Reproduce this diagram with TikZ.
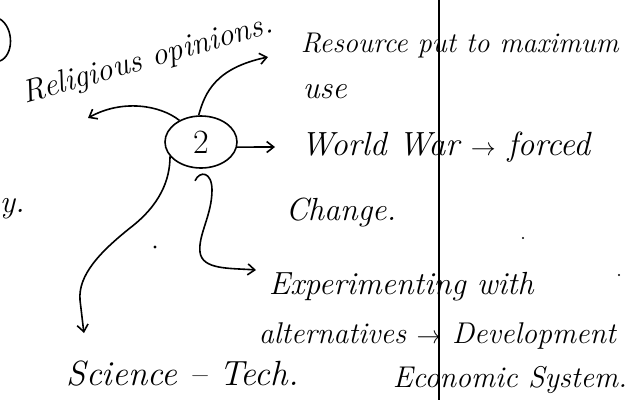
\documentclass[tikz,border=0pt]{standalone}
\usepackage{tikz}
\usetikzlibrary{arrows.meta,shapes.geometric}

\begin{document}
\begin{tikzpicture}[x=1pt,y=-1pt,line width=1.6pt,
 hand/.style={font=\fontsize{#1}{34}\selectfont\itshape,inner sep=0pt,anchor=base west},
 hand/.default=32,
 bubble/.style={draw,ellipse,minimum width=72pt,minimum height=52pt,inner sep=0pt,
 font=\fontsize{34}{36}\selectfont},
 arr/.style={-{Straight Barb[length=7pt,width=11pt]}}]
\useasboundingbox (0,0) rectangle (628,400);
% margin line of the page
\draw[line width=1.3pt] (439,0) -- (439,400);
% bit of a circled number cut off at the left edge
\draw (0,19) .. controls (14,28) and (14,55) .. (0,61);
\node[hand] (yend) at (-1,212) {y.};

\node[bubble] (two) at (201,142) {2};

\node[hand,anchor=base,rotate=16] (relig) at (150,68) {Religious opinions.};
\node[hand=28.5] (res) at (300,52) {Resource put to maximum};
\node[hand] (use) at (302,98) {use};
\node[hand=33.5] (war) at (300,155) {World War $\rightarrow$ forced};
\node[hand] (chg) at (285,220) {Change.};
\node[hand] (expt) at (268,294) {Experimenting with};
\node[hand=30] (alt) at (258,343) {alternatives $\rightarrow$ Development};
\node[hand=30] (eco) at (392,387) {Economic System.};
\node[hand=35] (sci) at (66,385) {Science -- Tech.};

% arrow tips
\coordinate (relig-tip) at (88,118);
\coordinate (res-tip) at (268,57);
\coordinate (war-tip) at (275,147);
\coordinate (expt-tip) at (256,270);
\coordinate (sci-tip) at (84,333);

\draw[arr] (two.135) .. controls (160,105) and (122,99) .. (relig-tip);
\draw[arr] (two.95) .. controls (205,92) and (216,68) .. (res-tip);
\draw[arr] (two.-8) -- (war-tip);
\draw[arr] (two.205) .. controls (170,180) and (160,205) .. (130,228)
  .. controls (100,252) and (78,275) .. (80,300) .. controls (81,315) .. (sci-tip);
\draw[arr] ([shift={(-6,12)}]two.south) .. controls (200,170) and (212,172) .. (212,190)
  .. controls (212,215) and (198,235) .. (200,252) .. controls (202,270) and (230,268) .. (expt-tip);

% stray dots
\fill (155,247) circle (1.6pt) (523,238) circle (1.2pt) (619,275) circle (1.2pt);
\end{tikzpicture}
\end{document}
